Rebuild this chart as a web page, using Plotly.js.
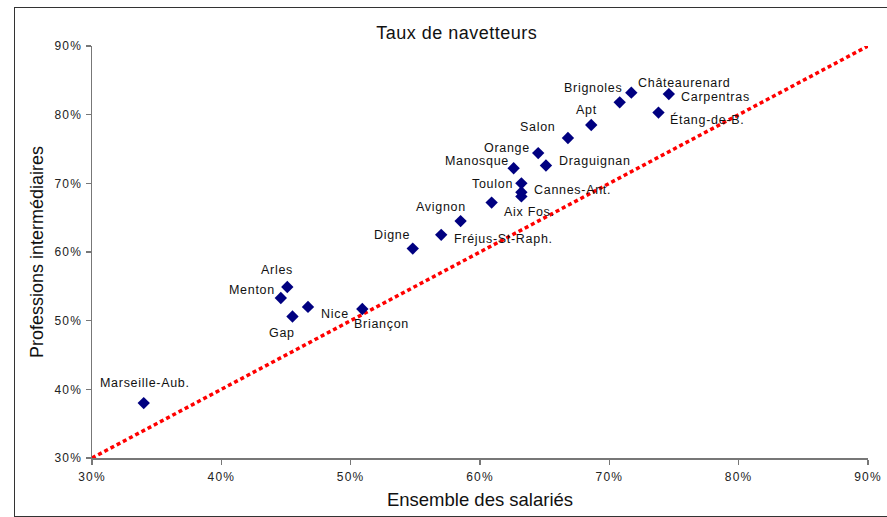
<!DOCTYPE html>
<html>
<head>
<meta charset="utf-8">
<script src="https://cdn.plot.ly/plotly-3.0.1.min.js"></script>
<style>
  html, body { margin: 0; padding: 0; background: #fff; }
  #chart { width: 887px; height: 517px; position: relative; }
  #frame { position: absolute; left: 14px; top: 7px; width: 900px; height: 510px;
           border: 1px solid #333; pointer-events: none; box-sizing: border-box; }
  .xtick text, .ytick text { letter-spacing: 1.2px; }
  .annotation-text { letter-spacing: 0.7px; }
  .gtitle { letter-spacing: 0.5px; }
</style>
</head>
<body>
<div id="chart"></div>
<div id="frame"></div>
<script>
// --- data ---
const cities = ["Marseille-Aub.", "Arles", "Menton", "Gap", "Nice", "Briançon", "Digne",
  "Fréjus-St-Raph.", "Avignon", "Aix Fos.", "Toulon", "Cannes-Ant.", "", "Manosque",
  "Draguignan", "Orange", "Salon", "Apt", "Brignoles", "Châteaurenard", "Carpentras", "Étang-de-B."];
const ensembleSalaries = [0.340, 0.451, 0.446, 0.455, 0.467, 0.509, 0.548,
  0.570, 0.585, 0.609, 0.632, 0.632, 0.632, 0.626,
  0.651, 0.645, 0.668, 0.686, 0.708, 0.717, 0.746, 0.738];
const professionsInter = [0.380, 0.549, 0.533, 0.506, 0.520, 0.517, 0.605,
  0.625, 0.645, 0.672, 0.700, 0.687, 0.681, 0.722,
  0.726, 0.744, 0.766, 0.785, 0.818, 0.832, 0.830, 0.803];
const refLineX = [0.3, 0.9];
const refLineY = [0.3, 0.9];
const tickVals = [0.3, 0.4, 0.5, 0.6, 0.7, 0.8, 0.9];
const tickText = ["30%", "40%", "50%", "60%", "70%", "80%", "90%"];

// --- label placement (anchor, x shift px, y shift px) ---
const labelPlacement = [
  ["center", 1, 20], ["center", -10, 17], ["right", -4, 8], ["center", -10, -16],
  ["left", 11, -7], ["left", -10, -15], ["right", -1, 14], ["left", 11, -4],
  ["center", -20, 14], ["left", 10, -9], ["right", -6, -1], ["left", 11, 2],
  ["left", 0, 0], ["right", -3, 7], ["left", 11, 4], ["right", -6, 5],
  ["center", -30, 11], ["center", -5, 15], ["center", -27, 14], ["left", 5, 10],
  ["left", 10, -3], ["left", 10, -7]
];

const FONT = '"Liberation Sans", Arial, sans-serif';

const annotations = cities.map((name, i) => ({
  x: ensembleSalaries[i], y: professionsInter[i], xref: 'x', yref: 'y',
  text: name, showarrow: false,
  xanchor: labelPlacement[i][0], yanchor: 'middle',
  xshift: labelPlacement[i][1], yshift: labelPlacement[i][2],
  font: { family: FONT, size: 12.5, color: '#111' }
})).filter(a => a.text !== "");

const traces = [
  {
    x: refLineX, y: refLineY, mode: 'lines', type: 'scatter',
    line: { color: '#ff0000', width: 3.5, dash: '4px,3px' },
    hoverinfo: 'skip', cliponaxis: false
  },
  {
    x: ensembleSalaries, y: professionsInter, text: cities,
    mode: 'markers', type: 'scatter',
    marker: { symbol: 'diamond', size: 9.5, color: '#000080' },
    cliponaxis: false
  }
];

const axisCommon = {
  range: [0.3, 0.9], tickvals: tickVals, ticktext: tickText,
  showgrid: false, zeroline: false, showline: true, linecolor: '#777', linewidth: 1.5,
  ticks: 'outside', ticklen: 5, tickcolor: '#777', tickwidth: 1.5,
  tickfont: { family: FONT, size: 12, color: '#222' }
};

const layout = {
  width: 887, height: 517,
  margin: { l: 92, r: 19, t: 46, b: 59 },
  paper_bgcolor: 'rgba(0,0,0,0)', plot_bgcolor: 'rgba(0,0,0,0)',
  showlegend: false,
  title: {
    text: 'Taux de navetteurs', x: 0.47, xref: 'paper', xanchor: 'center',
    y: 1 - 33 / 517, yref: 'container', yanchor: 'middle',
    font: { family: FONT, size: 18, color: '#111' }
  },
  xaxis: Object.assign({}, axisCommon, {
    ticklabelstandoff: 2,
    title: { text: 'Ensemble des salariés', standoff: 10,
             font: { family: FONT, size: 18.5, color: '#111' } }
  }),
  yaxis: Object.assign({}, axisCommon, {
    ticklabelstandoff: 1,
    title: { text: 'Professions intermédiaires', standoff: 6,
             font: { family: FONT, size: 18, color: '#111' } }
  }),
  annotations: annotations
};

Plotly.newPlot('chart', traces, layout, { displayModeBar: false, staticPlot: true });
</script>
</body>
</html>
